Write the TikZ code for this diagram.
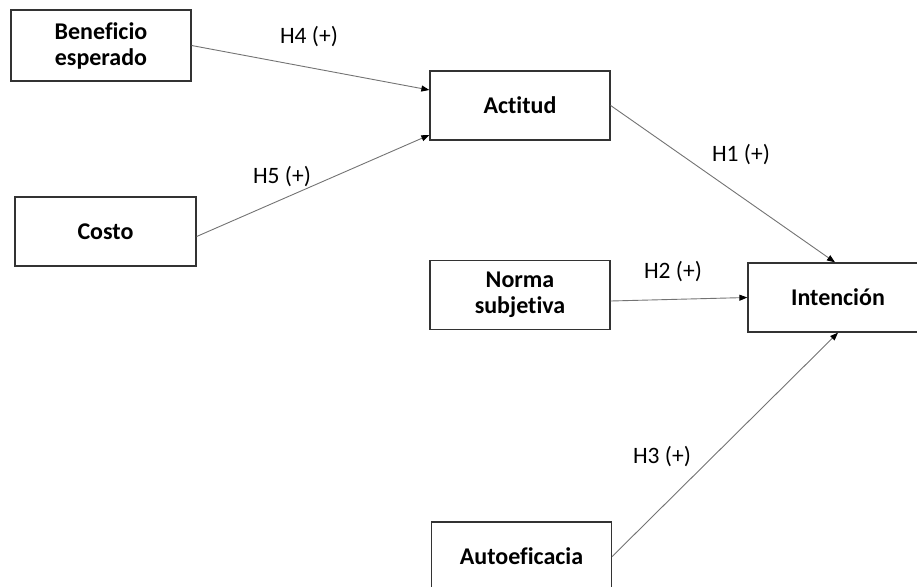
\documentclass[tikz,border=0pt]{standalone}
\usepackage{fontspec}
\setmainfont{Carlito}[Ligatures={NoCommon}]
\usetikzlibrary{arrows.meta}

\begin{document}
\begin{tikzpicture}[x=1pt, y=-1pt,
    caja/.style={draw=black!80, line width=1.3pt, minimum width=180pt, minimum height=69pt,
      align=center, inner sep=0pt, font=\fontsize{24}{26}\selectfont\bfseries},
    flecha/.style={draw=black!55, line width=0.9pt, -{Triangle[length=8pt,width=6pt,color=black]}},
    hip/.style={inner sep=0pt, font=\fontsize{23.5}{26}\selectfont}]
			%%%%% START %%%%%
			
			\useasboundingbox (0,0) rectangle (917,586);
			
			\node[caja, minimum height=71pt] (beneficio) at (101,45.5) {Beneficio\\esperado};
			\node[caja, minimum width=181pt] (costo) at (105.5,231.5) {Costo};
			\node[caja] (actitud) at (520,105.5) {Actitud};
			\node[caja] (norma) at (520,295) {Norma\\subjetiva};
			\node[caja] (intencion) at (838,297.5) {Intención};
			\node[caja] (autoeficacia) at (521.5,556.5) {Autoeficacia};
			
			\draw[flecha] (beneficio.east) -- ([yshift=15.5pt]actitud.west);
			\draw[flecha] ([yshift=-5pt]costo.east) -- ([yshift=-29.5pt]actitud.west);
			\draw[flecha] (actitud.east) -- ([xshift=-3pt]intencion.north);
			\draw[flecha] ([yshift=-6pt]norma.east) -- (intencion.west);
			\draw[flecha] (autoeficacia.east) -- (intencion.south);
			
			\node[hip] (h4) at (309,37) {H4 (+)};
			\node[hip] (h5) at (282,177) {H5 (+)};
			\node[hip] (h1) at (741,155) {H1 (+)};
			\node[hip] (h2) at (673,272) {H2 (+)};
			\node[hip] (h3) at (662,457) {H3 (+)};
			
			%%%%% END %%%%%
\end{tikzpicture}
\end{document}
